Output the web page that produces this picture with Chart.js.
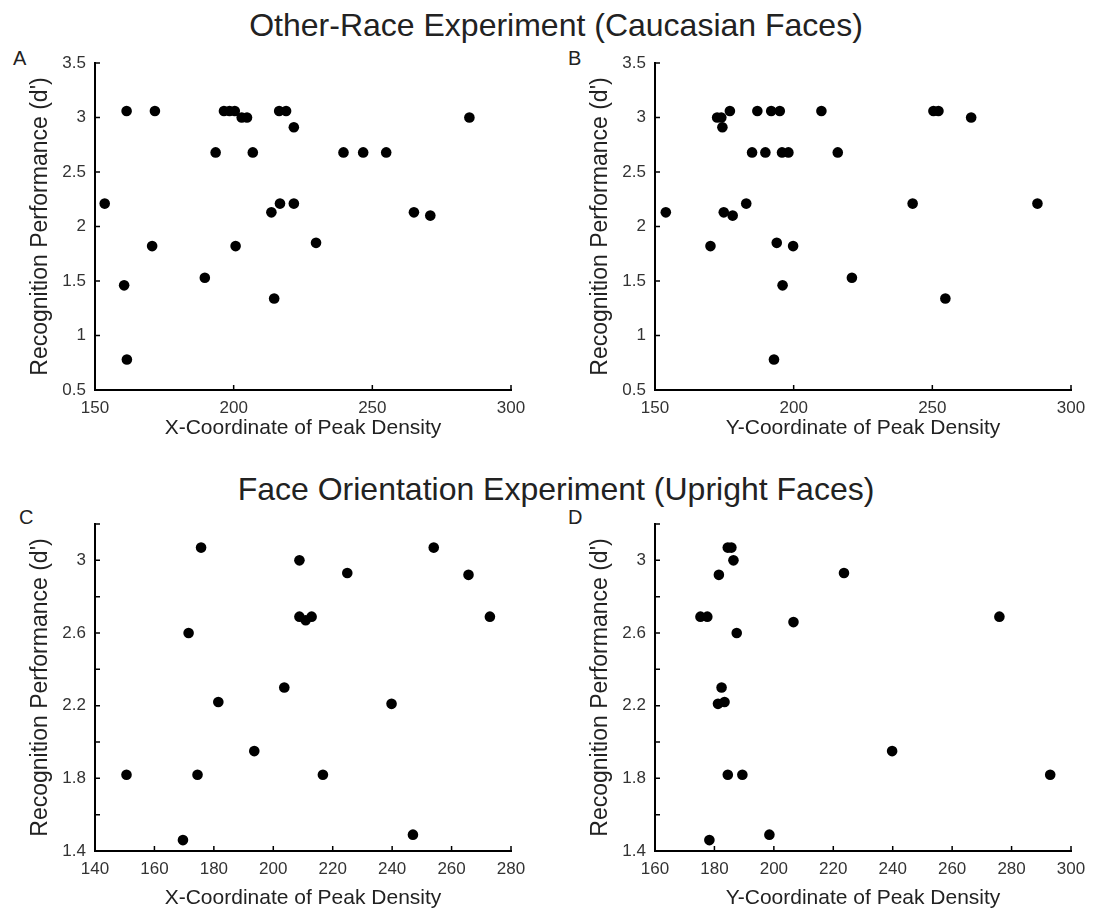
<!DOCTYPE html>
<html lang="en">
<head>
    <meta charset="UTF-8">
    <title>Peak Density vs Recognition Performance</title>
    <script src="https://cdn.jsdelivr.net/npm/chart.js@4.4.0/dist/chart.umd.min.js"></script>
    <style>
        body {
            margin: 0;
            background: #fff;
            font-family: "Liberation Sans", Arial, sans-serif;
        }
        .page {
            position: relative;
            width: 1098px;
            height: 911px;
            overflow: hidden;
        }
        .title {
            position: absolute;
            left: 556px;
            transform: translateX(-50%);
            white-space: nowrap;
            font-size: 32px;
            line-height: 1;
            color: #222;
        }
        .letter {
            position: absolute;
            font-size: 20px;
            line-height: 1;
            color: #222;
        }
        .panel {
            position: absolute;
        }
    </style>
</head>
<body>
<div class="page">
    <div class="title" style="top: 9px;">Other-Race Experiment (Caucasian Faces)</div>
    <div class="title" style="top: 473px;">Face Orientation Experiment (Upright Faces)</div>
    <div class="letter" style="left: 13px; top: 48px;">A</div>
    <div class="letter" style="left: 568px; top: 48px;">B</div>
    <div class="letter" style="left: 19px; top: 507px;">C</div>
    <div class="letter" style="left: 568px; top: 507px;">D</div>

    <canvas class="panel" id="chartA" width="540" height="400" style="left: 0; top: 50px;"></canvas>
    <canvas class="panel" id="chartB" width="538" height="400" style="left: 560px; top: 50px;"></canvas>
    <canvas class="panel" id="chartC" width="540" height="400" style="left: 0; top: 511px;"></canvas>
    <canvas class="panel" id="chartD" width="538" height="400" style="left: 560px; top: 511px;"></canvas>
</div>

<script>
    // Other-race experiment: x / y coordinate of peak density vs d'
    const xA = [161.4, 171.6, 196.5, 198.5, 200.4, 202.9, 204.8, 216.4, 218.9, 221.7, 285.0,
                193.5, 206.9, 239.6, 246.7, 255.0, 153.5, 213.6, 216.7, 221.7, 265.0, 270.9,
                170.6, 200.7, 229.7, 189.6, 160.5, 214.6, 161.5];
    const yA = [3.06, 3.06, 3.06, 3.06, 3.06, 3.0, 3.0, 3.06, 3.06, 2.91, 3.0,
                2.68, 2.68, 2.68, 2.68, 2.68, 2.21, 2.13, 2.21, 2.21, 2.13, 2.1,
                1.82, 1.82, 1.85, 1.53, 1.46, 1.34, 0.78];

    const xB = [172.4, 173.9, 174.3, 177.0, 186.9, 191.9, 195.0, 210.0, 250.4, 252.2, 264.0,
                185.0, 189.8, 195.8, 198.1, 215.9, 153.9, 174.8, 178.0, 182.9, 242.9, 287.9,
                170.0, 193.9, 199.8, 221.0, 196.0, 254.7, 192.9];
    const yB = [3.0, 3.0, 2.91, 3.06, 3.06, 3.06, 3.06, 3.06, 3.06, 3.06, 3.0,
                2.68, 2.68, 2.68, 2.68, 2.68, 2.13, 2.13, 2.1, 2.21, 2.21, 2.21,
                1.82, 1.85, 1.82, 1.53, 1.46, 1.34, 0.78];

    // Face orientation experiment
    const xC = [175.7, 208.8, 224.9, 254.0, 265.7, 171.5, 208.8, 210.9, 212.9, 272.9,
                181.5, 203.7, 239.8, 193.6, 150.6, 174.5, 216.7, 169.6, 247.0];
    const yC = [3.07, 3.0, 2.93, 3.07, 2.92, 2.6, 2.69, 2.67, 2.69, 2.69,
                2.22, 2.3, 2.21, 1.95, 1.82, 1.82, 1.82, 1.46, 1.49];

    const xD = [184.5, 185.7, 186.4, 181.5, 223.6, 175.3, 177.6, 206.6, 275.9, 187.5,
                182.4, 181.2, 183.4, 239.8, 184.5, 189.4, 293.0, 178.3, 198.5];
    const yD = [3.07, 3.07, 3.0, 2.92, 2.93, 2.69, 2.69, 2.66, 2.69, 2.6,
                2.3, 2.21, 2.22, 1.95, 1.82, 1.82, 1.82, 1.46, 1.49];

    // axis ticks and labels
    const xTicksAB = [150, 200, 250, 300];
    const yTicksAB = [0.5, 1, 1.5, 2, 2.5, 3, 3.5];
    const yLabelsAB = ['0.5', '1', '1.5', '2', '2.5', '3', '3.5'];
    const xTicksC = [140, 160, 180, 200, 220, 240, 260, 280];
    const xTicksD = [160, 180, 200, 220, 240, 260, 280, 300];
    const yTicksCD = [1.4, 1.6, 1.8, 2.0, 2.2, 2.4, 2.6, 2.8, 3.0, 3.2];
    const yLabelsCD = ['1.4', '', '1.8', '', '2.2', '', '2.6', '', '3', ''];

    const yTitle = "Recognition Performance (d')";

    // small tick marks pointing into the plot, like the original figure
    const inwardTicks = {
        id: 'inwardTicks',
        beforeDatasetsDraw(chart) {
            const ctx = chart.ctx;
            const area = chart.chartArea;
            const sx = chart.scales.x;
            const sy = chart.scales.y;
            ctx.save();
            ctx.strokeStyle = '#000';
            ctx.lineWidth = 1.5;
            ctx.beginPath();
            sx.ticks.forEach(t => {
                const px = sx.getPixelForValue(t.value);
                ctx.moveTo(px, area.bottom);
                ctx.lineTo(px, area.bottom - 5);
            });
            sy.ticks.forEach(t => {
                const py = sy.getPixelForValue(t.value);
                ctx.moveTo(area.left, py);
                ctx.lineTo(area.left + 5, py);
            });
            ctx.stroke();
            ctx.restore();
        }
    };

    function makeScatter(id, xs, ys, xTicks, yTicks, yLabels, xTitle, xTitlePad, rightPad) {
        const points = xs.map((x, i) => ({x: x, y: ys[i]}));
        const tickFont = {family: '"Liberation Sans", Arial, sans-serif', size: 17};

        new Chart(document.getElementById(id), {
            type: 'scatter',
            data: {
                datasets: [{
                    data: points,
                    backgroundColor: '#000',
                    borderWidth: 0,
                    pointRadius: 5.3,
                    clip: false
                }]
            },
            options: {
                responsive: false,
                animation: false,
                events: [],
                layout: {padding: {top: 13, right: rightPad, left: 0, bottom: 0}},
                plugins: {legend: {display: false}, tooltip: {enabled: false}},
                scales: {
                    x: {
                        type: 'linear',
                        min: xTicks[0],
                        max: xTicks[xTicks.length - 1],
                        afterBuildTicks: s => { s.ticks = xTicks.map(v => ({value: v})); },
                        afterFit: s => { s.height = 60; s.paddingLeft = 0; s.paddingRight = 0; },
                        grid: {display: false, drawTicks: false},
                        border: {display: true, color: '#000', width: 2},
                        ticks: {
                            color: '#333',
                            font: tickFont,
                            padding: 8,
                            maxRotation: 0,
                            callback: v => String(v)
                        },
                        title: {
                            display: true,
                            text: xTitle,
                            color: '#222',
                            font: {family: '"Liberation Sans", Arial, sans-serif', size: 21},
                            padding: {top: 0, bottom: xTitlePad}
                        }
                    },
                    y: {
                        type: 'linear',
                        min: yTicks[0],
                        max: yTicks[yTicks.length - 1],
                        afterBuildTicks: s => { s.ticks = yTicks.map(v => ({value: v})); },
                        afterFit: s => { s.width = 95; s.paddingTop = 0; s.paddingBottom = 0; },
                        grid: {display: false, drawTicks: false},
                        border: {display: true, color: '#000', width: 2},
                        ticks: {
                            color: '#333',
                            font: tickFont,
                            padding: 9,
                            callback: (v, i) => yLabels[i]
                        },
                        title: {
                            display: true,
                            text: yTitle,
                            color: '#222',
                            font: {family: '"Liberation Sans", Arial, sans-serif', size: 23},
                            padding: {top: 27, bottom: 0}
                        }
                    }
                }
            },
            plugins: [inwardTicks]
        });
    }

    makeScatter('chartA', xA, yA, xTicksAB, yTicksAB, yLabelsAB, 'X-Coordinate of Peak Density', 9, 29);
    makeScatter('chartB', xB, yB, xTicksAB, yTicksAB, yLabelsAB, 'Y-Coordinate of Peak Density', 9, 27);
    makeScatter('chartC', xC, yC, xTicksC, yTicksCD, yLabelsCD, 'X-Coordinate of Peak Density', 0, 29);
    makeScatter('chartD', xD, yD, xTicksD, yTicksCD, yLabelsCD, 'Y-Coordinate of Peak Density', 0, 27);
</script>
</body>
</html>
